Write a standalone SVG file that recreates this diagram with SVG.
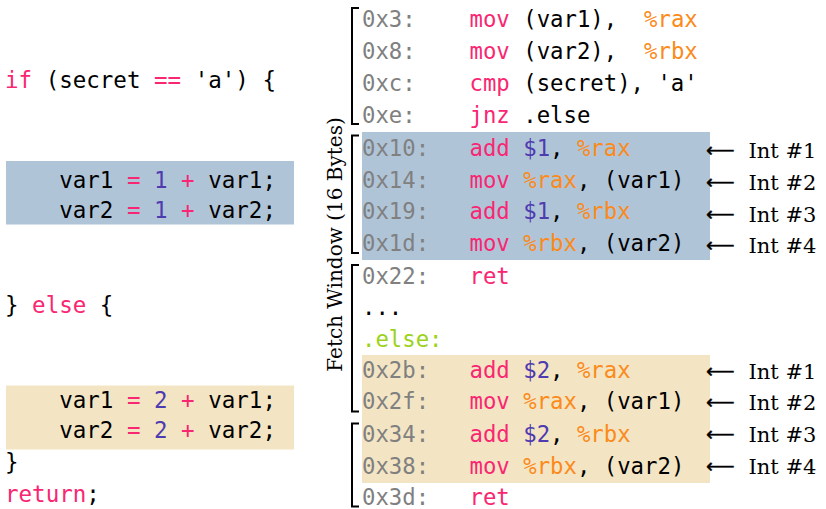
<svg xmlns="http://www.w3.org/2000/svg" width="826" height="509" viewBox="0 0 826 509">
<style>
.code{font-family:"DejaVu Sans Mono",monospace;font-size:22.3px;fill:#000;white-space:pre}
.lc{font-size:22.5px}
.k{fill:#f92672}
.r{fill:#fb8a1a}
.n{fill:#4e3bb0}
.a{fill:#808080}
.g{fill:#9ad31a}
.blue{fill:#b0c4d8}
.beige{fill:#f3e5c4}
.br{fill:none;stroke:#000;stroke-width:2}
.lab{font-family:"DejaVu Serif",serif;font-size:20px;fill:#000}
.il{font-size:21px}
.arr{font-family:"DejaVu Sans",sans-serif;font-size:20px;fill:#000;stroke:#000;stroke-width:0.4}
</style>
<rect width="826" height="509" fill="#fff"/>
<g id="highlights">
<rect class="blue" x="6" y="161" width="288" height="63.5"/>
<rect class="beige" x="6" y="385.5" width="288" height="64"/>
<rect class="blue" x="362" y="132" width="348" height="128"/>
<rect class="beige" x="362" y="355" width="348" height="128"/>
</g>
<g id="source-code" class="code lc">
<text x="5" y="88"><tspan class="k">if</tspan> (secret <tspan class="k">==</tspan> 'a') {</text>
<text x="59.2" y="188">var1 <tspan class="k">=</tspan> <tspan class="n">1</tspan> <tspan class="k">+</tspan> var1;</text>
<text x="59.2" y="218">var2 <tspan class="k">=</tspan> <tspan class="n">1</tspan> <tspan class="k">+</tspan> var2;</text>
<text x="5" y="313">} <tspan class="k">else</tspan> {</text>
<text x="59.2" y="408">var1 <tspan class="k">=</tspan> <tspan class="n">2</tspan> <tspan class="k">+</tspan> var1;</text>
<text x="59.2" y="438">var2 <tspan class="k">=</tspan> <tspan class="n">2</tspan> <tspan class="k">+</tspan> var2;</text>
<text x="5" y="470">}</text>
<text x="5" y="502"><tspan class="k">return</tspan>;</text>
</g>
<g id="window-1" class="code">
<text x="362" y="27"><tspan class="a">0x3:</tspan><tspan x="469.5" class="k">mov</tspan> (var1),<tspan x="644.1" class="r">%rax</tspan></text>
<text x="362" y="58.5"><tspan class="a">0x8:</tspan><tspan x="469.5" class="k">mov</tspan> (var2),<tspan x="644.1" class="r">%rbx</tspan></text>
<text x="362" y="90.5"><tspan class="a">0xc:</tspan><tspan x="469.5" class="k">cmp</tspan> (secret), 'a'</text>
<text x="362" y="122.5"><tspan class="a">0xe:</tspan><tspan x="469.5" class="k">jnz</tspan> .else</text>
</g>
<g id="window-2" class="code">
<text x="362" y="156"><tspan class="a">0x10:</tspan><tspan x="469.5" class="k">add</tspan> <tspan class="n">$1</tspan>, <tspan class="r">%rax</tspan></text>
<text x="362" y="187.5"><tspan class="a">0x14:</tspan><tspan x="469.5" class="k">mov</tspan> <tspan class="r">%rax</tspan>, (var1)</text>
<text x="362" y="219"><tspan class="a">0x19:</tspan><tspan x="469.5" class="k">add</tspan> <tspan class="n">$1</tspan>, <tspan class="r">%rbx</tspan></text>
<text x="362" y="250.5"><tspan class="a">0x1d:</tspan><tspan x="469.5" class="k">mov</tspan> <tspan class="r">%rbx</tspan>, (var2)</text>
</g>
<g id="window-3" class="code">
<text x="362" y="283.5"><tspan class="a">0x22:</tspan><tspan x="469.5" class="k">ret</tspan></text>
<text x="362" y="315">...</text>
<text x="362" y="346.5" class="g">.else:</text>
<text x="362" y="377.5"><tspan class="a">0x2b:</tspan><tspan x="469.5" class="k">add</tspan> <tspan class="n">$2</tspan>, <tspan class="r">%rax</tspan></text>
<text x="362" y="409"><tspan class="a">0x2f:</tspan><tspan x="469.5" class="k">mov</tspan> <tspan class="r">%rax</tspan>, (var1)</text>
</g>
<g id="window-4" class="code">
<text x="362" y="442"><tspan class="a">0x34:</tspan><tspan x="469.5" class="k">add</tspan> <tspan class="n">$2</tspan>, <tspan class="r">%rbx</tspan></text>
<text x="362" y="473.5"><tspan class="a">0x38:</tspan><tspan x="469.5" class="k">mov</tspan> <tspan class="r">%rbx</tspan>, (var2)</text>
<text x="362" y="505"><tspan class="a">0x3d:</tspan><tspan x="469.5" class="k">ret</tspan></text>
</g>
<g id="connectors">
<path class="br" d="M359,8 H352 V124 H359"/>
<path class="br" d="M359,135.5 H352 V253 H359"/>
<path class="br" d="M359,265 H352 V411.5 H359"/>
<path class="br" d="M359,423.5 H352 V506.5 H359"/>
</g>
<g id="fetch-label">
<text class="lab" x="341.5" y="244.5" text-anchor="middle" transform="rotate(-90 341.5 244.5)">Fetch Window (16 Bytes)</text>
</g>
<g id="int-labels">
<text class="arr" x="706" y="157">⟵</text><text class="lab il" x="748.5" y="158">Int #1</text>
<text class="arr" x="706" y="189">⟵</text><text class="lab il" x="748.5" y="190">Int #2</text>
<text class="arr" x="706" y="220.5">⟵</text><text class="lab il" x="748.5" y="221.5">Int #3</text>
<text class="arr" x="706" y="252">⟵</text><text class="lab il" x="748.5" y="253">Int #4</text>
<text class="arr" x="706" y="377.5">⟵</text><text class="lab il" x="748.5" y="378.5">Int #1</text>
<text class="arr" x="706" y="408.5">⟵</text><text class="lab il" x="748.5" y="409.5">Int #2</text>
<text class="arr" x="706" y="441">⟵</text><text class="lab il" x="748.5" y="442">Int #3</text>
<text class="arr" x="706" y="472.5">⟵</text><text class="lab il" x="748.5" y="473.5">Int #4</text>
</g>
</svg>
